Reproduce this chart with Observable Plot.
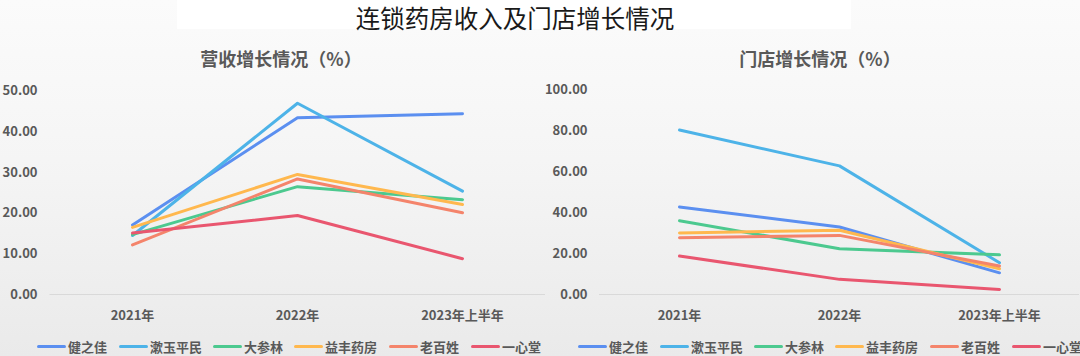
<!DOCTYPE html>
<html>
<head>
<meta charset="utf-8">
<script src="https://cdn.jsdelivr.net/npm/d3@7"></script>
<script src="https://cdn.jsdelivr.net/npm/@observablehq/plot@0.6"></script>
<style>
  html, body { margin: 0; padding: 0; }
  body { width: 1080px; height: 356px; overflow: hidden; }
  #root {
    position: relative; width: 1080px; height: 356px;
    background: linear-gradient(to bottom, #fbfbfb 0%, #f5f5f5 45%, #eaeaea 100%);
    font-family: "Noto Sans CJK SC", "Noto Sans", sans-serif;
  }
  #titlebox {
    position: absolute; left: 177px; top: 0; width: 674px; height: 29px;
    background: #ffffff;
  }
  #title {
    position: absolute; left: 0; width: 1030px; top: 0px; text-align: center;
    font-size: 24.5px; line-height: normal; color: #1a1a1a; font-weight: 400;
  }
  .ptitle {
    position: absolute; top: 46px; font-size: 18px; line-height: 24px;
    font-weight: 700; color: #595959; white-space: nowrap; transform: translateX(-50%);
  }
  .chart { position: absolute; top: 80px; }
  .leg {
    position: absolute; top: 337px; height: 18px; display: flex; align-items: center;
    font-size: 13px; font-weight: 700; color: #595959; white-space: nowrap;
  }
  .leg .sw { width: 29px; height: 3px; border-radius: 1.5px; margin-right: 2px; }
</style>
</head>
<body>
<div id="root">
  <div id="titlebox"></div>
  <div id="title">连锁药房收入及门店增长情况</div>
  <div class="ptitle" style="left:281px">营收增长情况（%）</div>
  <div class="ptitle" style="left:820px">门店增长情况（%）</div>
  <div id="chartL" class="chart" style="left:0px"></div>
  <div id="chartR" class="chart" style="left:540px"></div>
</div>
<script>
// Categories and series
const years = ["2021年", "2022年", "2023年上半年"];
const companies = ["健之佳", "漱玉平民", "大参林", "益丰药房", "老百姓", "一心堂"];
const colors = ["#5b8ff0", "#4db3e8", "#4cc98f", "#ffb84e", "#f4846b", "#e9566f"];

// 营收增长情况（%）
const revenue_健之佳 = [17.1, 43.4, 44.4];
const revenue_漱玉平民 = [14.5, 47.0, 25.4];
const revenue_大参林 = [14.7, 26.5, 23.3];
const revenue_益丰药房 = [16.5, 29.5, 22.1];
const revenue_老百姓 = [12.2, 28.4, 20.1];
const revenue_一心堂 = [15.1, 19.4, 8.8];

// 门店增长情况（%）
const stores_健之佳 = [42.8, 33.0, 10.6];
const stores_漱玉平民 = [80.4, 62.9, 15.5];
const stores_大参林 = [36.1, 22.4, 19.4];
const stores_益丰药房 = [30.1, 31.4, 12.6];
const stores_老百姓 = [27.8, 28.9, 13.9];
const stores_一心堂 = [18.8, 7.4, 2.5];

// Tick values
const ticksL = [0, 10, 20, 30, 40, 50];
const ticksR = [0, 20, 40, 60, 80, 100];

const revenueSeries = [revenue_健之佳, revenue_漱玉平民, revenue_大参林, revenue_益丰药房, revenue_老百姓, revenue_一心堂];
const storeSeries = [stores_健之佳, stores_漱玉平民, stores_大参林, stores_益丰药房, stores_老百姓, stores_一心堂];

function toRows(series) {
  const rows = [];
  series.forEach((vals, i) => vals.forEach((v, j) => rows.push({name: companies[i], year: years[j], value: v})));
  return rows;
}

function makeChart(rows, ticks, opts) {
  return Plot.plot({
    width: opts.width,
    height: 262,
    marginTop: opts.marginTop,
    marginBottom: 48,
    marginLeft: opts.marginLeft,
    marginRight: opts.marginRight,
    style: {
      background: "transparent",
      fontFamily: "'Noto Sans CJK SC', 'Noto Sans', sans-serif",
      fontSize: "13px",
      fontWeight: "700",
      color: "#595959",
      overflow: "visible"
    },
    x: {type: "point", domain: years, padding: 0.5, label: null},
    y: {domain: [0, ticks[ticks.length - 1]], label: null},
    color: {domain: companies, range: colors},
    marks: [
      Plot.ruleY([0], {stroke: "#d9d9d9", strokeWidth: 1}),
      Plot.axisY({ticks: ticks, tickFormat: d => d.toFixed(2), tickSize: 0, tickPadding: opts.yPad, label: null}),
      Plot.axisX({tickSize: 0, tickPadding: 16, label: null}),
      Plot.line(rows, {x: "year", y: "value", z: "name", stroke: "name", strokeWidth: 3, strokeLinejoin: "round", strokeLinecap: "round"})
    ]
  });
}

document.getElementById("chartL").appendChild(
  makeChart(toRows(revenueSeries), ticksL, {width: 545, marginLeft: 49.5, marginRight: 0, marginTop: 10.5, yPad: 12.5})
);
document.getElementById("chartR").appendChild(
  makeChart(toRows(storeSeries), ticksR, {width: 540, marginLeft: 59, marginRight: 1, marginTop: 9.5, yPad: 12})
);

// Legends
const legOffsets = [37, 119, 213, 294, 389, 471];
const root = document.getElementById("root");
[0, 541].forEach(base => {
  companies.forEach((c, i) => {
    const d = document.createElement("div");
    d.className = "leg";
    d.style.left = (base + legOffsets[i]) + "px";
    const sw = document.createElement("span");
    sw.className = "sw";
    sw.style.background = colors[i];
    const t = document.createElement("span");
    t.textContent = c;
    d.appendChild(sw); d.appendChild(t);
    root.appendChild(d);
  });
});
</script>
</body>
</html>
